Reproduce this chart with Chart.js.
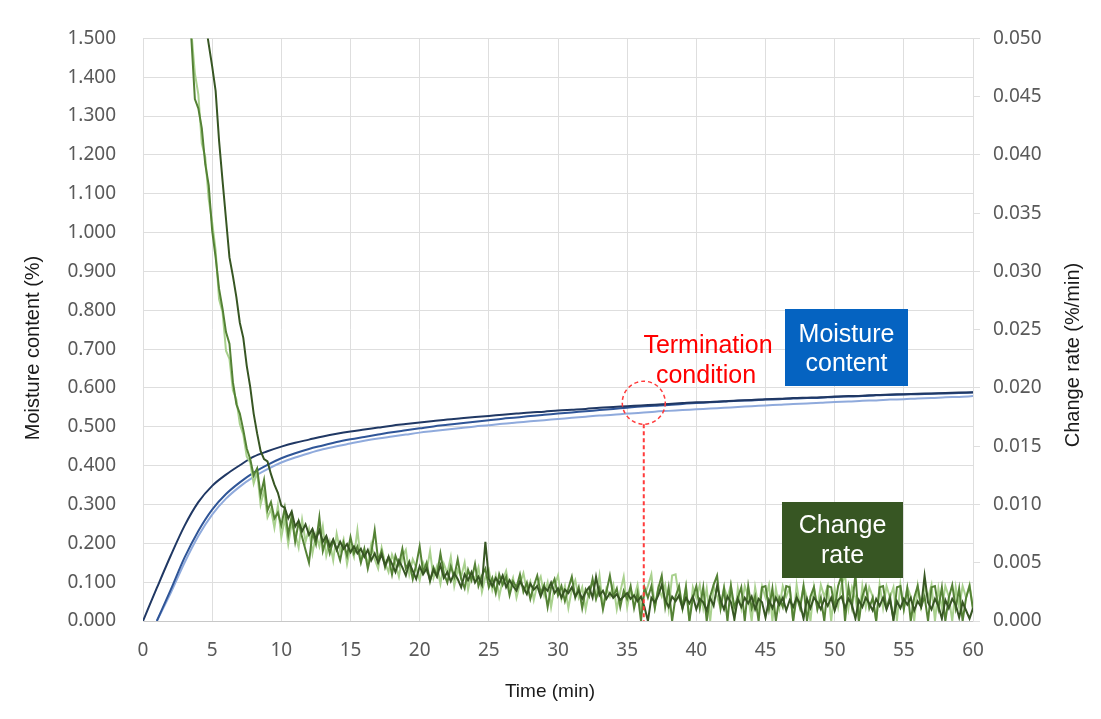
<!DOCTYPE html>
<html>
<head>
<meta charset="utf-8">
<script src="https://cdn.jsdelivr.net/npm/chart.js@4.4.1/dist/chart.umd.min.js"></script>
<style>
  html, body { margin: 0; padding: 0; background: #fff; }
  canvas { display: block; }
</style>
</head>
<body>
<canvas id="chart" width="1101" height="719"></canvas>
<script>
// moisture content (%), sampled every minute
const tBlue = [0,1,2,3,4,5,6,7,8,9,10,11,12,13,14,15,16,17,18,19,20,21,22,23,24,25,26,27,28,29,30,
  31,32,33,34,35,36,37,38,39,40,41,42,43,44,45,46,47,48,49,50,51,52,53,54,55,56,57,58,59,60]

const mcDark = [0.000,0.085,0.168,0.245,0.306,0.348,0.377,0.401,0.423,0.437,0.449,0.459,0.467,0.475,0.482,0.488,
  0.493,0.498,0.503,0.507,0.511,0.515,0.519,0.522,0.525,0.528,0.531,0.534,0.537,0.539,0.542,0.544,0.546,0.549,
  0.551,0.553,0.555,0.557,0.559,0.561,0.563,0.564,0.566,0.568,0.569,0.571,0.572,0.574,0.575,0.576,0.578,0.579,
  0.580,0.582,0.583,0.584,0.585,0.586,0.587,0.588,0.589]
const mcMid = [null,0.000,0.080,0.163,0.232,0.287,0.327,0.357,0.382,0.402,0.419,0.432,0.443,0.452,0.461,0.468,
  0.474,0.480,0.486,0.491,0.496,0.501,0.505,0.509,0.513,0.517,0.521,0.524,0.528,0.531,0.534,0.537,0.540,0.543,
  0.546,0.549,0.552,0.554,0.556,0.559,0.561,0.563,0.565,0.567,0.568,0.570,0.571,0.573,0.574,0.575,0.577,0.578,
  0.579,0.581,0.582,0.583,0.584,0.585,0.586,0.587,0.588]
const mcLight = [null,0.000,0.072,0.150,0.219,0.274,0.315,0.346,0.371,0.391,0.408,0.421,0.432,0.442,0.450,0.457,
  0.464,0.470,0.475,0.480,0.485,0.489,0.493,0.497,0.501,0.504,0.508,0.511,0.514,0.517,0.520,0.523,0.526,0.529,
  0.531,0.534,0.536,0.539,0.541,0.543,0.545,0.547,0.549,0.551,0.553,0.555,0.557,0.559,0.560,0.562,0.564,0.565,
  0.567,0.568,0.570,0.571,0.573,0.574,0.576,0.577,0.579]

// change rate (%/min), sampled every 0.25 min
const STEP = 0.25
const tGreen = []
for (let i = 0; i <= 240; i++) tGreen.push(i * STEP)

const rateDark = [
  null,null,null,null,null,null,null,null,null,null,
  null,null,null,null,null,null,0.058,0.054,0.0515,0.0495,
  0.0476,0.0455,0.0412,0.0378,0.0345,0.0312,0.0296,0.0278,0.0256,0.0243,
  0.0219,0.0201,0.0178,0.0161,0.0146,0.0139,0.0137,0.0126,0.0117,0.0110,
  0.0099,0.0097,0.0088,0.0094,0.0081,0.0086,0.0077,0.0083,0.0074,0.0079,
  0.0070,0.0078,0.0068,0.0073,0.0064,0.0070,0.0061,0.0068,0.0062,0.0066,
  0.0059,0.0064,0.0058,0.0062,0.0055,0.0061,0.0052,0.0058,0.0050,0.0057,
  0.0048,0.0055,0.0049,0.0042,0.0052,0.0046,0.0039,0.0050,0.0043,0.0036,
  0.0047,0.0040,0.0045,0.0035,0.0044,0.0038,0.0048,0.0037,0.0042,0.0034,
  0.0041,0.0036,0.0029,0.0040,0.0035,0.0042,0.0033,0.0038,0.0031,0.0068,
  0.0036,0.0030,0.0037,0.0032,0.0039,0.0029,0.0035,0.0030,0.0026,0.0034,
  0.0029,0.0023,0.0032,0.0027,0.0030,0.0021,0.0029,0.0026,0.0033,0.0024,
  0.0028,0.0020,0.0027,0.0024,0.0029,0.0021,0.0026,0.0019,0.0025,0.0029,
  0.0020,0.0038,0.0022,0.0026,0.0019,0.0024,0.0020,0.0023,0.0018,0.0021,
  0.0024,0.0019,0.0022,0.0017,0.0021,0.0012,0.0000,0.0020,0.0016,0.0022,
  0.0031,0.0018,0.0012,0.0021,0.0017,0.0022,0.0011,0.0020,0.0015,0.0021,
  0.0010,0.0019,0.0016,0.0009,0.0020,0.0013,0.0030,0.0018,0.0010,0.0021,
  0.0016,0.0002,0.0019,0.0012,0.0020,0.0015,0.0021,0.0010,0.0019,0.0016,
  0.0003,0.0018,0.0011,0.0020,0.0014,0.0020,0.0009,0.0018,0.0012,0.0020,
  0.0015,0.0002,0.0019,0.0011,0.0020,0.0016,0.0010,0.0019,0.0013,0.0020,
  0.0009,0.0018,0.0021,0.0011,0.0019,0.0014,0.0002,0.0018,0.0012,0.0020,
  0.0015,0.0009,0.0019,0.0013,0.0020,0.0010,0.0018,0.0002,0.0017,0.0011,
  0.0019,0.0014,0.0020,0.0009,0.0017,0.0012,0.0039,0.0016,0.0010,0.0019,
  0.0013,0.0002,0.0018,0.0011,0.0019,0.0014,0.0003,0.0016,0.0009,0.0002,
  0.0011]

const rateMid = [
  null,null,null,null,null,null,null,null,null,null,
  null,null,0.057,0.052,0.0499,0.0448,0.0440,0.0423,0.0392,0.0374,
  0.0335,0.0312,0.0285,0.0268,0.0248,0.0238,0.0205,0.0186,0.0178,0.0164,
  0.0148,0.0139,0.0125,0.0131,0.0108,0.0121,0.0095,0.0102,0.0088,0.0093,
  0.0082,0.0097,0.0074,0.0090,0.0068,0.0085,0.0072,0.0061,0.0050,0.0076,
  0.0066,0.0089,0.0060,0.0071,0.0058,0.0069,0.0062,0.0052,0.0067,0.0056,
  0.0072,0.0058,0.0064,0.0050,0.0062,0.0045,0.0058,0.0078,0.0052,0.0060,
  0.0046,0.0055,0.0040,0.0056,0.0048,0.0062,0.0045,0.0051,0.0036,0.0048,
  0.0064,0.0042,0.0050,0.0034,0.0046,0.0039,0.0058,0.0041,0.0033,0.0047,
  0.0038,0.0053,0.0036,0.0028,0.0044,0.0035,0.0049,0.0030,0.0039,0.0045,
  0.0029,0.0037,0.0024,0.0040,0.0031,0.0038,0.0022,0.0034,0.0029,0.0040,
  0.0025,0.0033,0.0019,0.0030,0.0039,0.0024,0.0031,0.0012,0.0029,0.0036,
  0.0022,0.0030,0.0017,0.0028,0.0038,0.0020,0.0029,0.0011,0.0027,0.0021,
  0.0036,0.0019,0.0028,0.0010,0.0025,0.0039,0.0021,0.0028,0.0012,0.0026,
  0.0019,0.0030,0.0011,0.0024,0.0000,0.0029,0.0020,0.0030,0.0011,0.0028,
  0.0039,0.0012,0.0029,0.0000,0.0021,0.0030,0.0011,0.0029,0.0000,0.0020,
  0.0030,0.0011,0.0029,0.0000,0.0021,0.0031,0.0039,0.0011,0.0028,0.0000,
  0.0030,0.0012,0.0020,0.0029,0.0000,0.0030,0.0011,0.0021,0.0000,0.0029,
  0.0030,0.0010,0.0028,0.0000,0.0020,0.0012,0.0030,0.0029,0.0000,0.0021,
  0.0011,0.0030,0.0000,0.0021,0.0029,0.0010,0.0020,0.0000,0.0030,0.0029,
  0.0011,0.0030,0.0039,0.0000,0.0029,0.0012,0.0040,0.0000,0.0021,0.0030,
  0.0011,0.0020,0.0000,0.0029,0.0030,0.0011,0.0021,0.0000,0.0029,0.0030,
  0.0010,0.0028,0.0000,0.0020,0.0030,0.0012,0.0021,0.0000,0.0029,0.0030,
  0.0011,0.0029,0.0000,0.0020,0.0031,0.0011,0.0028,0.0000,0.0020,0.0030,
  0.0010]

const rateLight = [
  null,null,null,null,null,null,null,null,null,null,
  null,null,0.058,0.0535,0.0505,0.0470,0.0452,0.0410,0.0398,0.0362,
  0.0342,0.0318,0.0276,0.0265,0.0232,0.0225,0.0198,0.0190,0.0169,0.0160,
  0.0141,0.0136,0.0118,0.0128,0.0100,0.0112,0.0089,0.0096,0.0080,0.0099,
  0.0072,0.0088,0.0066,0.0084,0.0075,0.0063,0.0087,0.0068,0.0079,0.0058,
  0.0074,0.0064,0.0081,0.0056,0.0068,0.0052,0.0075,0.0060,0.0070,0.0049,
  0.0064,0.0055,0.0078,0.0052,0.0061,0.0048,0.0066,0.0053,0.0045,0.0063,
  0.0050,0.0042,0.0057,0.0049,0.0038,0.0055,0.0061,0.0040,0.0053,0.0046,
  0.0035,0.0050,0.0043,0.0060,0.0037,0.0047,0.0032,0.0049,0.0041,0.0055,
  0.0030,0.0044,0.0038,0.0050,0.0027,0.0041,0.0036,0.0046,0.0025,0.0038,
  0.0044,0.0027,0.0039,0.0021,0.0035,0.0043,0.0028,0.0037,0.0020,0.0032,
  0.0041,0.0026,0.0034,0.0018,0.0031,0.0038,0.0022,0.0033,0.0012,0.0030,
  0.0039,0.0019,0.0030,0.0011,0.0027,0.0035,0.0020,0.0029,0.0010,0.0026,
  0.0034,0.0020,0.0039,0.0012,0.0028,0.0021,0.0031,0.0010,0.0025,0.0038,
  0.0012,0.0027,0.0020,0.0031,0.0011,0.0022,0.0030,0.0040,0.0012,0.0029,
  0.0021,0.0031,0.0010,0.0039,0.0040,0.0020,0.0011,0.0030,0.0000,0.0029,
  0.0020,0.0031,0.0011,0.0028,0.0000,0.0030,0.0021,0.0011,0.0029,0.0020,
  0.0031,0.0000,0.0028,0.0011,0.0030,0.0021,0.0000,0.0029,0.0012,0.0030,
  0.0020,0.0031,0.0000,0.0028,0.0011,0.0030,0.0021,0.0029,0.0000,0.0031,
  0.0012,0.0030,0.0020,0.0000,0.0029,0.0011,0.0031,0.0021,0.0030,0.0000,
  0.0028,0.0012,0.0031,0.0040,0.0011,0.0029,0.0020,0.0000,0.0030,0.0012,
  0.0029,0.0021,0.0000,0.0031,0.0011,0.0030,0.0020,0.0029,0.0000,0.0031,
  0.0011,0.0029,0.0021,0.0000,0.0030,0.0012,0.0029,0.0020,0.0031,0.0000,
  0.0028,0.0011,0.0030,0.0021,0.0000,0.0029,0.0012,0.0030,0.0020,0.0031,
  0.0011]

// termination point marked on the chart
const termTime = 36.2
const termMoisture = 0.562

const GRID = '#dedede'
const TICK = '#595959'
const TICK_FONT = { family: "'Noto Sans', sans-serif", size: 19 }

function pts(ts, vs){ return ts.map((t, i) => ({ x: t, y: vs[i] })) }

function line(label, ts, vs, color, axis, smooth) {
  return {
    label, data: pts(ts, vs), yAxisID: axis,
    borderColor: color, borderWidth: 2, pointRadius: 0,
    tension: smooth ? 0.4 : 0,
    cubicInterpolationMode: smooth ? 'monotone' : 'default',
    spanGaps: false
  }
}

function box(ctx, x0, y0, x1, y1, fill, lines) {
  ctx.fillStyle = fill
  ctx.fillRect(x0, y0, x1 - x0, y1 - y0)
  ctx.fillStyle = '#fff'
  ctx.font = "25px 'Liberation Sans', Arial, sans-serif"
  ctx.textAlign = 'center'
  ctx.textBaseline = 'alphabetic'
  const cx = (x0 + x1) / 2
  lines.forEach((s, i) => ctx.fillText(s, cx, lines.baseline[i]))
}

const overlay = {
  id: 'overlay',
  afterDatasetsDraw(chart) {
    const { ctx, scales: { x, y } } = chart
    const px = x.getPixelForValue(termTime)
    const py = y.getPixelForValue(termMoisture)
    const r = 21.5
    ctx.save()
    ctx.strokeStyle = '#ff3b3b'
    ctx.lineWidth = 1.5
    ctx.setLineDash([4, 3])
    ctx.beginPath()
    ctx.arc(px, py, r, 0, Math.PI * 2)
    ctx.stroke()
    ctx.lineWidth = 2
    ctx.beginPath()
    ctx.moveTo(px, py + r)
    ctx.lineTo(px, y.getPixelForValue(0))
    ctx.stroke()
    ctx.setLineDash([])

    ctx.fillStyle = '#ff0000'
    ctx.font = "25px 'Liberation Sans', Arial, sans-serif"
    ctx.textAlign = 'center'
    ctx.textBaseline = 'alphabetic'
    ctx.fillText('Termination', 708, 353)
    ctx.fillText('condition', 706, 383)

    const mc = ['Moisture', 'content']; mc.baseline = [342, 371]
    box(ctx, 785, 309, 908, 386, '#0563c1', mc)
    const cr = ['Change', 'rate']; cr.baseline = [533, 563]
    box(ctx, 782, 502, 903, 578, '#375623', cr)
    ctx.restore()
  },
  afterDraw(chart) {
    const { ctx } = chart
    ctx.save()
    ctx.fillStyle = '#1a1a1a'
    ctx.textAlign = 'center'
    ctx.textBaseline = 'middle'
    ctx.font = "19px 'Liberation Sans', Arial, sans-serif"
    ctx.fillText('Time (min)', 550, 692)
    ctx.font = "20px 'Liberation Sans', Arial, sans-serif"
    ctx.translate(33, 348)
    ctx.rotate(-Math.PI / 2)
    ctx.fillText('Moisture content (%)', 0, 0)
    ctx.restore()
    ctx.save()
    ctx.fillStyle = '#1a1a1a'
    ctx.textAlign = 'center'
    ctx.textBaseline = 'middle'
    ctx.font = "20px 'Liberation Sans', Arial, sans-serif"
    ctx.translate(1073, 355)
    ctx.rotate(-Math.PI / 2)
    ctx.fillText('Change rate (%/min)', 0, 0)
    ctx.restore()
  }
}

new Chart(document.getElementById('chart'), {
  type: 'line',
  data: {
    datasets: [
      line('Change rate 3', tGreen, rateDark, '#375623', 'y2', false),
      line('Change rate 2', tGreen, rateMid, '#548235', 'y2', false),
      line('Change rate 1', tGreen, rateLight, '#a9d18e', 'y2', false),
      line('Moisture content 3', tBlue, mcDark, '#203864', 'y', true),
      line('Moisture content 2', tBlue, mcMid, '#2f5597', 'y', true),
      line('Moisture content 1', tBlue, mcLight, '#8faadc', 'y', true)
    ]
  },
  options: {
    responsive: false,
    animation: false,
    devicePixelRatio: 1,
    layout: { padding: { top: 38, left: 0, right: 0, bottom: 0 } },
    plugins: { legend: { display: false }, tooltip: { enabled: false } },
    scales: {
      x: {
        type: 'linear', min: 0, max: 60,
        ticks: { stepSize: 5, color: TICK, font: TICK_FONT, padding: 18, maxRotation: 0 },
        grid: { color: GRID, drawTicks: false },
        border: { color: '#c8c8c8' },
        afterFit(s) { s.height = 98 }
      },
      y: {
        position: 'left', min: 0, max: 1.5,
        ticks: { stepSize: 0.1, color: TICK, font: TICK_FONT, padding: 27, callback: v => v.toFixed(3) },
        grid: { color: GRID, drawTicks: false },
        border: { color: GRID },
        afterFit(s) { s.width = 143 }
      },
      y2: {
        position: 'right', min: 0, max: 0.05,
        ticks: { stepSize: 0.005, color: TICK, font: TICK_FONT, padding: 13, callback: v => v.toFixed(3) },
        grid: { drawOnChartArea: false, color: GRID, tickLength: 7 },
        border: { color: GRID },
        afterFit(s) { s.width = 128 }
      }
    }
  },
  plugins: [overlay]
})
</script>
</body>
</html>
